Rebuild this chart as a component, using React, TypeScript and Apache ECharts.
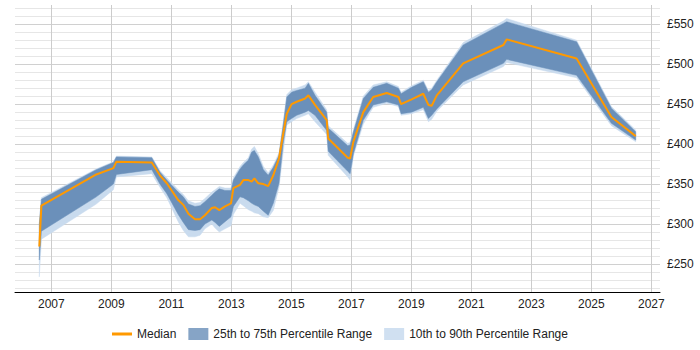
import React, { useEffect, useRef } from "react";
import * as echarts from "echarts";

// Sample dates as decimal years
const years = [
  2006.6, 2006.67, 2008.5, 2009.07, 2009.17, 2010.35, 2010.62, 2010.85, 2011.23, 2011.4,
  2011.57, 2011.79, 2011.96, 2012.12, 2012.35, 2012.46, 2012.6, 2012.79, 2012.99, 2013.07,
  2013.29, 2013.4, 2013.57, 2013.68, 2013.77, 2013.9, 2014.07, 2014.23, 2014.4, 2014.59,
  2014.73, 2014.85, 2015.01, 2015.18, 2015.46, 2015.57, 2015.79, 2016.18, 2016.23, 2016.88,
  2016.96, 2017.07, 2017.4, 2017.73, 2018.18, 2018.57, 2018.66, 2019.01, 2019.4, 2019.57,
  2019.68, 2019.85, 2020.73, 2022.07, 2022.18, 2024.51, 2025.67, 2026.48,
];

// Daily rate percentiles (£)
const median = [
  272, 323, 362, 370, 378, 377, 361, 351, 330, 324,
  313, 306, 306, 311, 320, 321, 317.5, 322, 326, 345,
  349, 355, 355, 353, 357, 351, 350, 347.5, 361, 382,
  413, 438, 450, 453, 457, 461, 449, 430, 407, 383,
  382, 403, 440, 459, 464, 459, 450, 456, 463, 449,
  448, 461, 501, 524, 531, 507, 434, 410,
];
const p25 = [
  255, 291, 334, 350, 362, 368, 350, 338, 312, 302,
  293, 292, 293, 300, 305, 302, 297, 303, 309, 322,
  334, 333, 329, 326, 324, 322, 316, 311, 326, 351,
  401, 428, 432, 436, 440, 442, 436, 417, 391, 366,
  363, 388, 430, 449, 453, 449, 438, 440, 446, 432,
  436, 444, 478, 501, 506, 486, 426, 405,
];
const p75 = [
  300, 331, 368, 377, 384, 383, 365, 355, 340, 334,
  325, 322, 323, 328, 336, 340, 344, 342, 342, 355,
  369, 374, 380, 390, 392, 384, 368, 361, 371, 386,
  424, 459, 465, 467, 470, 476, 461, 440, 420, 398,
  399, 415, 457, 471, 476, 470, 463, 471, 478, 465,
  468, 478, 524, 551, 553, 528, 445, 415.5,
];
const p10 = [
  234, 281, 325, 343, 359, 363, 346, 333, 303, 292,
  284, 284, 286, 294, 300, 295, 290, 294, 298, 312,
  326, 323, 318, 316, 314, 313, 309, 308, 317, 346,
  390, 424, 428, 432, 436, 438, 428, 412, 386, 359,
  355, 385, 425, 446, 451, 447, 436, 438, 443, 428,
  431, 441, 474, 497, 502, 483, 423, 403,
];
const p90 = [
  302, 333, 369, 378, 385, 384, 367, 358, 343, 337,
  329, 326, 327, 332, 340, 343, 347, 345, 345, 358,
  372, 377, 383, 394, 397, 388, 372, 364, 374, 389,
  427, 462, 468, 470, 474, 478, 465, 443, 423, 401,
  402, 418, 460, 474, 478, 472, 465, 473, 480, 467,
  470, 480, 527, 554, 557, 530, 447, 417.5,
];

const yearTicks = [2007, 2009, 2011, 2013, 2015, 2017, 2019, 2021, 2023, 2025, 2027];
const priceTicks = [250, 300, 350, 400, 450, 500, 550];
const minorPriceTicks = [
  220, 230, 240, 260, 270, 280, 290, 310, 320, 330, 340, 360, 370, 380, 390,
  410, 420, 430, 440, 460, 470, 480, 490, 510, 520, 530, 540, 560, 570,
];

const MEDIAN_NAME = "Median";
const INNER_NAME = "25th to 75th Percentile Range";
const OUTER_NAME = "10th to 90th Percentile Range";

const ORANGE = "#ff9900";
const DARK = "#6b90ba";
const LIGHT = "#c9dbee";
const DARK_SWATCH = "#86a4c6";
const LIGHT_SWATCH = "#d0e0f1";
const FONT = "'Liberation Sans', Arial, sans-serif";

const pairs = (ys: number[]) => years.map((x, i) => [x, ys[i]]);

// A filled band between two percentile curves, drawn as one polygon
// through the cartesian coordinate system.
function bandSeries(name: string, lo: number[], hi: number[], color: string, z: number) {
  return {
    name,
    type: "custom",
    silent: true,
    z,
    itemStyle: { color },
    encode: { x: 0, y: [1, 2] },
    data: years.map((x, i) => [x, lo[i], hi[i]]),
    renderItem: (params: any, api: any) => {
      if (params.dataIndex !== 0) return null;
      const upper = years.map((x, i) => api.coord([x, hi[i]]));
      const lower = years.map((x, i) => api.coord([x, lo[i]])).reverse();
      return {
        type: "polygon",
        shape: { points: upper.concat(lower) },
        style: { fill: color, stroke: color, lineWidth: 0.5 },
      };
    },
  };
}

export default function App() {
  const ref = useRef<HTMLDivElement>(null);

  useEffect(() => {
    if (!ref.current) return;
    const chart = echarts.init(ref.current, undefined, { renderer: "svg" });

    chart.setOption({
      animation: false,
      textStyle: { fontFamily: FONT },
      grid: { left: 15, right: 40, top: 5, bottom: 58, containLabel: false },
      legend: {
        left: 112,
        top: 328,
        padding: 0,
        itemGap: 12,
        itemWidth: 20,
        itemHeight: 12,
        selectedMode: false,
        textStyle: { fontFamily: FONT, fontSize: 12, color: "#222" },
        data: [
          {
            name: MEDIAN_NAME,
            icon: "path://M0,0 L20,0 L20,3 L0,3 Z",
            itemStyle: { color: ORANGE },
          },
          { name: INNER_NAME, icon: "rect", itemStyle: { color: DARK_SWATCH } },
          { name: OUTER_NAME, icon: "rect", itemStyle: { color: LIGHT_SWATCH } },
        ],
      },
      xAxis: {
        type: "value",
        min: 2005.79,
        max: 2027.29,
        axisLine: { show: true, lineStyle: { color: "#000", width: 1 } },
        axisTick: { show: false, customValues: yearTicks },
        axisLabel: {
          customValues: yearTicks,
          formatter: (v: number) => String(v),
          color: "#222",
          fontSize: 12,
          margin: 6,
        },
        splitLine: { show: true, lineStyle: { color: "#cccccc", width: 1 } },
      },
      yAxis: [
        {
          type: "value",
          position: "right",
          min: 215,
          max: 574,
          axisLine: { show: false },
          axisTick: { show: false, customValues: priceTicks },
          axisLabel: {
            customValues: priceTicks,
            formatter: (v: number) => "£" + v,
            color: "#222",
            fontSize: 12,
            margin: 7,
          },
          splitLine: { show: true, lineStyle: { color: "#d0d0d0", width: 1 } },
        },
        {
          type: "value",
          position: "left",
          min: 215,
          max: 574,
          axisLine: { show: false },
          axisTick: { show: false, customValues: minorPriceTicks },
          axisLabel: { show: false, customValues: minorPriceTicks },
          splitLine: { show: true, lineStyle: { color: "#e6e6e6", width: 1 } },
        },
      ],
      series: [
        bandSeries(OUTER_NAME, p10, p90, LIGHT, 1),
        bandSeries(INNER_NAME, p25, p75, DARK, 2),
        {
          name: MEDIAN_NAME,
          type: "line",
          symbol: "none",
          silent: true,
          itemStyle: { color: ORANGE },
          lineStyle: { color: ORANGE, width: 2 },
          data: pairs(median),
          z: 3,
        },
      ],
    });

    return () => chart.dispose();
  }, []);

  return (
    <div
      ref={ref}
      style={{ position: "absolute", left: 0, top: 0, width: 700, height: 350 }}
    />
  );
}
